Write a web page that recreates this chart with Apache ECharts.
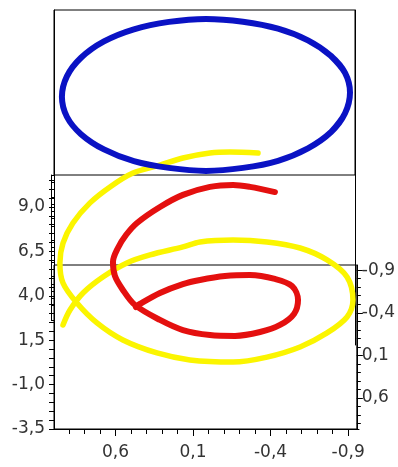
<!DOCTYPE html>
<html>
<head>
<meta charset="utf-8">
<style>
  html, body { margin: 0; padding: 0; background: #ffffff; }
  #chart { width: 398px; height: 467px; }
</style>
<script src="https://cdn.jsdelivr.net/npm/echarts@6/dist/echarts.min.js"></script>
</head>
<body>
<div id="chart"></div>
<script>
// ---- Data ----
// Blue closed curve (top box)
var blueX = [-0.912, -0.880, -0.790, -0.641, -0.448, -0.222, 0.016, 0.255, 0.481, 0.674, 0.822, 0.913, 0.945, 0.913, 0.822, 0.674, 0.481, 0.255, 0.016, -0.222, -0.448, -0.641, -0.790, -0.880];
var blueY = [15.45, 16.55, 17.50, 18.38, 19.04, 19.43, 19.59, 19.42, 19.00, 18.32, 17.40, 16.35, 15.20, 14.08, 13.10, 12.24, 11.58, 11.20, 11.03, 11.20, 11.60, 12.30, 13.22, 14.28];

// Red spiral
var redX = [-0.428, -0.267, -0.158, -0.009, 0.165, 0.313, 0.461, 0.532, 0.584, 0.616, 0.603, 0.552, 0.474, 0.313, 0.165, -0.009, -0.171, -0.332, -0.461, -0.551, -0.577, -0.538, -0.428, -0.267, -0.106, 0.055, 0.165, 0.313, 0.442, 0.468];
var redY = [9.84, 10.13, 10.24, 10.13, 9.68, 9.00, 8.10, 7.42, 6.69, 5.90, 5.11, 4.33, 3.48, 2.64, 2.07, 1.79, 1.74, 1.96, 2.36, 2.98, 3.76, 4.55, 4.95, 5.17, 5.11, 4.89, 4.66, 4.16, 3.54, 3.37];

// Yellow spiral
var yellowX = [-0.319, -0.138, -0.009, 0.165, 0.313, 0.487, 0.635, 0.764, 0.874, 0.938, 0.958, 0.938, 0.848, 0.719, 0.552, 0.332, 0.120, -0.158, -0.377, -0.590, -0.764, -0.893, -0.931, -0.893, -0.764, -0.590, -0.377, -0.158, 0.055, 0.165, 0.377, 0.526, 0.681, 0.809, 0.893, 0.938];
var yellowY = [12.04, 12.10, 12.04, 11.76, 11.36, 10.91, 10.13, 9.23, 8.10, 6.97, 5.85, 4.72, 3.59, 2.47, 1.51, 0.78, 0.39, 0.27, 0.55, 1.12, 1.91, 2.81, 3.76, 5.06, 6.02, 6.69, 7.03, 7.14, 7.03, 6.75, 6.30, 5.85, 5.06, 4.16, 3.20, 2.36];

// Tick labels
var bottomLabels = [0.6, 0.1, -0.4, -0.9];
var leftLabels = [-3.5, -1.0, 1.5, 4.0, 6.5, 9.0];
var rightLabels = [-0.9, -0.4, 0.1, 0.6];
var bottomMinorTicks = [0.9, 0.8, 0.7, 0.6, 0.5, 0.4, 0.3, 0.2, 0.1, 0.0, -0.1, -0.2, -0.3, -0.4, -0.5, -0.6, -0.7, -0.8, -0.9];
var leftTicks = [-3.5, -3.0, -2.5, -2.0, -1.5, -1.0, -0.5, 0.0, 0.5, 1.0, 1.5, 2.0, 2.5, 3.0, 3.5, 4.0, 4.5, 5.0, 5.5, 6.0, 6.5, 7.0, 7.5, 8.0, 8.5, 9.0, 9.5, 10.0, 10.5];
var rightMinorTicks = [-0.9, -0.8, -0.7, -0.6, -0.5, -0.4, -0.3, -0.2, -0.1, 0.0, 0.1, 0.2, 0.3, 0.4, 0.5, 0.6, 0.7, 0.8, 0.9];
var ladderTicks = [0, 1, 2, 3, 4, 5, 6, 7, 8, 9, 10, 11, 12, 13, 14, 15, 16, 17, 18, 19, 20];

function pairs(xs, ys) {
  return xs.map(function (x, i) { return [x, ys[i]]; });
}
// closed loop: wrap a couple of points around so the smoothing has no corner at the seam
function closedPairs(xs, ys) {
  var p = pairs(xs, ys);
  var n = p.length;
  return [p[n - 2], p[n - 1]].concat(p, [p[0], p[1], p[2]]);
}
function fmt(v) {
  var s = (Math.round(v * 10) / 10).toFixed(1).replace('.', ',');
  return s === '-0,0' ? '0,0' : s;
}

var labelFont = { fontFamily: 'DejaVu Sans', fontSize: 17, color: '#333' };
var blk = { color: '#000', width: 1 };

var chart = echarts.init(document.getElementById('chart'), null, { renderer: 'canvas' });
var option = {
  animation: false,
  backgroundColor: '#ffffff',
  grid: [
    { left: 54, top: 10, width: 301, height: 165, show: true, borderColor: '#000', borderWidth: 1, backgroundColor: 'transparent' },
    { left: 54, top: 10, right: 39, bottom: 38, show: false },
    { left: 54, top: 265, right: 39, bottom: 38, show: true, borderColor: '#000', borderWidth: 1, backgroundColor: 'transparent' },
    { left: 54, top: 10, right: 43, bottom: 122, show: false },
    { left: 54, top: 175, height: 145, width: 100, show: false }
  ],
  xAxis: [
    {
      gridIndex: 1, type: 'value', min: -0.970, max: 0.996, inverse: true, position: 'bottom',
      axisLine: { show: true, onZero: false, lineStyle: blk },
      axisTick: { show: true, inside: false, length: 7, customValues: bottomLabels, lineStyle: blk },
      axisLabel: Object.assign({ show: true, margin: 15, customValues: bottomLabels, formatter: fmt }, labelFont),
      splitLine: { show: false }
    },
    {
      gridIndex: 1, type: 'value', min: -0.970, max: 0.996, inverse: true, position: 'bottom',
      axisLine: { show: false, onZero: false },
      axisTick: { show: true, inside: false, length: 5, customValues: bottomMinorTicks, lineStyle: blk },
      axisLabel: { show: false },
      splitLine: { show: false }
    },
    { gridIndex: 2, type: 'value', show: false, min: 0, max: 1, axisLine: { onZero: false } },
    { gridIndex: 3, type: 'value', show: false, min: 0, max: 1, axisLine: { onZero: false } },
    { gridIndex: 4, type: 'value', show: false, min: 0, max: 1, axisLine: { onZero: false } }
  ],
  yAxis: [
    {
      gridIndex: 1, type: 'value', min: -3.5, max: 20.09, position: 'left',
      axisLine: { show: true, onZero: false, lineStyle: blk },
      axisTick: { show: true, inside: false, length: 5, customValues: leftTicks, lineStyle: blk },
      axisLabel: Object.assign({ show: true, margin: 9, customValues: leftLabels, formatter: fmt }, labelFont),
      splitLine: { show: false }
    },
    {
      gridIndex: 2, type: 'value', min: -0.96, max: 0.963, inverse: true, position: 'right',
      axisLine: { show: true, onZero: false, lineStyle: blk },
      axisTick: { show: true, inside: false, length: 6, customValues: rightLabels, lineStyle: blk },
      axisLabel: Object.assign({ show: true, margin: 5, customValues: rightLabels, formatter: fmt }, labelFont),
      splitLine: { show: false }
    },
    {
      gridIndex: 2, type: 'value', min: -0.96, max: 0.963, inverse: true, position: 'right',
      axisLine: { show: false, onZero: false },
      axisTick: { show: true, inside: false, length: 4, customValues: rightMinorTicks, lineStyle: blk },
      axisLabel: { show: false },
      splitLine: { show: false }
    },
    {
      gridIndex: 3, type: 'value', min: 0, max: 1, position: 'right',
      axisLine: { show: true, onZero: false, lineStyle: blk },
      axisTick: { show: false }, axisLabel: { show: false }, splitLine: { show: false }
    },
    {
      gridIndex: 4, type: 'value', min: 0, max: 20, position: 'left', offset: 3,
      axisLine: { show: true, onZero: false, lineStyle: blk },
      axisTick: { show: true, inside: true, length: 3, customValues: ladderTicks, lineStyle: blk },
      axisLabel: { show: false }, splitLine: { show: false }
    }
  ],
  series: [
    {
      name: 'yellow', type: 'line', xAxisIndex: 0, yAxisIndex: 0,
      data: pairs(yellowX, yellowY), smooth: 0.33, showSymbol: false, symbol: 'none', clip: false,
      lineStyle: { color: '#fbf500', width: 5.5, cap: 'round', join: 'round' }, z: 3
    },
    {
      name: 'red', type: 'line', xAxisIndex: 0, yAxisIndex: 0,
      data: pairs(redX, redY), smooth: 0.33, showSymbol: false, symbol: 'none', clip: false,
      lineStyle: { color: '#e4100f', width: 6, cap: 'round', join: 'round' }, z: 4
    },
    {
      name: 'blue', type: 'line', xAxisIndex: 0, yAxisIndex: 0,
      data: closedPairs(blueX, blueY), smooth: 0.33, showSymbol: false, symbol: 'none', clip: false,
      lineStyle: { color: '#0a12c4', width: 6, cap: 'round', join: 'round' }, z: 5
    }
  ]
};
chart.setOption(option);
</script>
</body>
</html>
